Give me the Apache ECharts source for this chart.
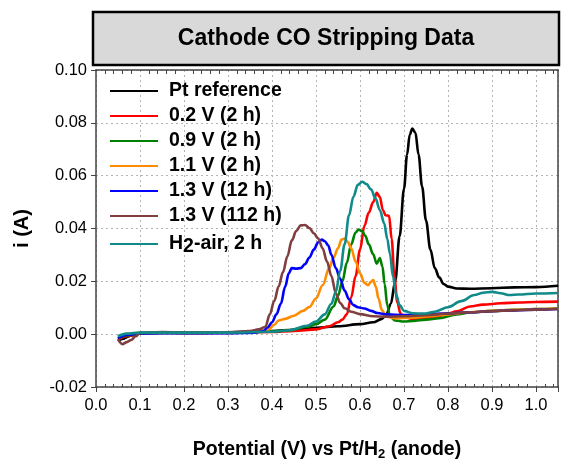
<!DOCTYPE html>
<html>
<head>
<meta charset="utf-8">
<script src="https://cdn.jsdelivr.net/npm/echarts@6/dist/echarts.min.js"></script>
<style>
  html, body { margin: 0; padding: 0; background: #fff; }
  #chart { width: 562px; height: 459px; }
</style>
</head>
<body>
<div id="chart"></div>
<script>
// CO stripping voltammograms: [potential (V), current (A)]
const seriesNames = ['Pt reference', '0.2 V (2 h)', '0.9 V (2 h)', '1.1 V (2 h)', '1.3 V (12 h)', '1.3 V (112 h)', 'H2-air, 2 h'];
const seriesColors = ['#000000', '#ff0000', '#008000', '#ff8c00', '#0000ff', '#7f3f3f', '#118a8a'];

const ptReference = [[0.05,-0.0025],[0.06,-0.0018],[0.08,-0.0005],[0.10,0.0003],[0.15,0.0006],[0.20,0.0005],[0.25,0.0005],[0.30,0.0006],[0.35,0.0008],[0.40,0.0012],[0.45,0.0017],[0.50,0.0024],[0.55,0.003],[0.60,0.0038],[0.63,0.0045],[0.65,0.0058],[0.66,0.0075],[0.67,0.0115],[0.68,0.02],[0.69,0.037],[0.70,0.055],[0.707,0.068],[0.713,0.0755],[0.719,0.0778],[0.726,0.0762],[0.733,0.068],[0.741,0.056],[0.75,0.043],[0.76,0.032],[0.77,0.025],[0.78,0.0215],[0.79,0.019],[0.80,0.018],[0.82,0.0173],[0.85,0.0172],[0.90,0.0174],[0.95,0.0177],[1.00,0.0178],[1.05,0.0183]];

const cathode02V = [[0.05,-0.002],[0.07,-0.0008],[0.10,0.0004],[0.15,0.0006],[0.20,0.0005],[0.30,0.0005],[0.40,0.0008],[0.45,0.0012],[0.50,0.0018],[0.53,0.003],[0.55,0.0045],[0.56,0.0055],[0.57,0.0075],[0.58,0.014],[0.59,0.022],[0.60,0.032],[0.61,0.041],[0.62,0.046],[0.63,0.050],[0.638,0.0535],[0.645,0.052],[0.652,0.047],[0.658,0.045],[0.666,0.0448],[0.672,0.036],[0.678,0.022],[0.685,0.012],[0.692,0.0078],[0.70,0.0065],[0.72,0.0058],[0.75,0.006],[0.78,0.0068],[0.80,0.0078],[0.82,0.0087],[0.85,0.0105],[0.88,0.0112],[0.92,0.0117],[0.96,0.012],[1.00,0.0122],[1.05,0.0123]];

const cathode09V = [[0.05,-0.0015],[0.07,-0.0005],[0.10,0.0004],[0.20,0.0005],[0.30,0.0006],[0.40,0.001],[0.44,0.0015],[0.48,0.0028],[0.50,0.0038],[0.52,0.0055],[0.54,0.0105],[0.55,0.0145],[0.56,0.020],[0.57,0.027],[0.58,0.034],[0.59,0.0385],[0.597,0.0396],[0.605,0.039],[0.612,0.0372],[0.62,0.034],[0.63,0.0302],[0.638,0.0267],[0.645,0.0288],[0.651,0.0256],[0.656,0.019],[0.662,0.011],[0.668,0.0068],[0.68,0.0052],[0.70,0.0048],[0.72,0.005],[0.75,0.0055],[0.78,0.006],[0.82,0.0075],[0.85,0.0082],[0.90,0.0088],[0.95,0.0092],[1.00,0.0095],[1.05,0.0097]];

const cathode11V = [[0.05,-0.001],[0.07,0],[0.10,0.0005],[0.20,0.0005],[0.30,0.0006],[0.36,0.0008],[0.39,0.0015],[0.405,0.0035],[0.415,0.0052],[0.43,0.0058],[0.45,0.007],[0.47,0.0088],[0.485,0.0103],[0.50,0.0135],[0.515,0.0185],[0.53,0.025],[0.54,0.029],[0.55,0.0325],[0.558,0.0358],[0.565,0.0362],[0.572,0.035],[0.58,0.0325],[0.59,0.0275],[0.60,0.023],[0.61,0.0195],[0.618,0.0185],[0.625,0.0198],[0.630,0.0205],[0.636,0.018],[0.642,0.0135],[0.65,0.009],[0.66,0.0066],[0.68,0.006],[0.72,0.0062],[0.76,0.0068],[0.80,0.0075],[0.85,0.0083],[0.90,0.0088],[0.95,0.0092],[1.00,0.0095],[1.05,0.0097]];

const cathode13V12h = [[0.05,-0.0015],[0.07,-0.0003],[0.10,0.0003],[0.20,0.0004],[0.30,0.0004],[0.36,0.0006],[0.38,0.0012],[0.39,0.0025],[0.40,0.0045],[0.41,0.0075],[0.42,0.0115],[0.43,0.018],[0.438,0.023],[0.445,0.025],[0.455,0.0248],[0.465,0.025],[0.475,0.0265],[0.485,0.029],[0.495,0.032],[0.505,0.0348],[0.513,0.0358],[0.52,0.0352],[0.528,0.0335],[0.535,0.030],[0.545,0.025],[0.555,0.021],[0.565,0.0165],[0.575,0.0132],[0.585,0.011],[0.595,0.0102],[0.61,0.0097],[0.625,0.0088],[0.64,0.008],[0.66,0.0075],[0.70,0.0072],[0.75,0.0075],[0.80,0.0079],[0.85,0.0083],[0.90,0.0087],[0.95,0.009],[1.00,0.0093],[1.05,0.0095]];

const cathode13V112h = [[0.05,-0.002],[0.06,-0.0038],[0.07,-0.003],[0.08,-0.0022],[0.09,-0.0008],[0.10,0.0005],[0.15,0.0008],[0.20,0.0007],[0.25,0.0006],[0.30,0.0007],[0.35,0.0012],[0.37,0.0018],[0.385,0.0028],[0.395,0.0075],[0.405,0.0125],[0.415,0.018],[0.425,0.0235],[0.435,0.0295],[0.445,0.0355],[0.455,0.039],[0.465,0.0412],[0.475,0.0413],[0.485,0.0402],[0.495,0.0382],[0.505,0.0362],[0.515,0.0325],[0.525,0.0275],[0.535,0.022],[0.545,0.0155],[0.555,0.0118],[0.565,0.0098],[0.58,0.0085],[0.60,0.0076],[0.63,0.0068],[0.66,0.0066],[0.70,0.0068],[0.75,0.0072],[0.80,0.0078],[0.85,0.0083],[0.90,0.0087],[0.95,0.009],[1.00,0.0093],[1.05,0.0095]];

const h2Air2h = [[0.05,-0.0008],[0.07,0.0002],[0.10,0.0006],[0.20,0.0006],[0.30,0.0006],[0.40,0.0009],[0.44,0.0015],[0.48,0.0032],[0.50,0.0048],[0.52,0.0075],[0.535,0.0115],[0.545,0.016],[0.555,0.024],[0.565,0.034],[0.575,0.045],[0.585,0.052],[0.595,0.0565],[0.605,0.0577],[0.615,0.0568],[0.625,0.0548],[0.635,0.0515],[0.645,0.047],[0.655,0.042],[0.662,0.036],[0.668,0.0305],[0.675,0.0218],[0.682,0.015],[0.69,0.011],[0.70,0.0088],[0.72,0.0079],[0.745,0.0078],[0.77,0.0085],[0.80,0.0102],[0.83,0.0125],[0.86,0.0148],[0.88,0.0157],[0.90,0.016],[0.92,0.0155],[0.94,0.0148],[0.96,0.015],[1.00,0.0154],[1.05,0.0156]];

const seriesData = [ptReference, cathode02V, cathode09V, cathode11V, cathode13V12h, cathode13V112h, h2Air2h];

const FONT = '"Liberation Sans", Arial, sans-serif';
const gridLine = { show: true, lineStyle: { color: '#b4b4b4', type: [2, 3], width: 1 } };
const axisLine = { show: true, onZero: false, lineStyle: { color: '#444', width: 1.5 } };

const chart = echarts.init(document.getElementById('chart'), null, { renderer: 'canvas' });

chart.setOption({
  animation: false,
  backgroundColor: '#fff',
  grid: { left: 96, right: 4, top: 70, bottom: 72, containLabel: false, outerBoundsMode: 'none' },
  graphic: [
    {
      type: 'rect',
      shape: { x: 93, y: 12, width: 466, height: 53 },
      style: { fill: '#d9d9d9', stroke: '#000', lineWidth: 2.5 },
      z: 1
    },
    {
      type: 'text',
      x: 326, y: 39,
      style: {
        text: 'Cathode CO Stripping Data',
        font: 'bold 23px ' + FONT,
        fill: '#000',
        align: 'center',
        verticalAlign: 'middle'
      },
      z: 2
    }
  ],
  legend: {
    orient: 'vertical',
    left: 105, top: 76,
    itemWidth: 48, itemHeight: 2,
    itemGap: 5,
    icon: 'rect',
    data: seriesNames,
    formatter: function (name) {
      if (name === 'H2-air, 2 h') return '{t|H}{s|2}{t|-air, 2 h}';
      return '{t|' + name + '}';
    },
    textStyle: {
      padding: [0, 0, 0, 6],
      rich: {
        t: { fontFamily: FONT, fontWeight: 'bold', fontSize: 19.5, color: '#000', lineHeight: 20 },
        s: { fontFamily: FONT, fontWeight: 'bold', fontSize: 19.5, color: '#000', lineHeight: 20, padding: [6, 0, 0, 0] }
      }
    }
  },
  xAxis: [
    {
      type: 'value',
      position: 'bottom',
      min: 0, max: 1.05, interval: 0.1,
      axisLine: axisLine,
      axisTick: { show: true, inside: false, length: 5, lineStyle: { color: '#444', width: 1 } },
      minorTick: { show: false },
      splitLine: gridLine,
      axisLabel: {
        color: '#000', fontFamily: FONT, fontSize: 16.5, margin: 10,
        formatter: function (v) { return v > 1.0001 ? '' : v.toFixed(1); }
      },
      name: '{t|Potential (V) vs Pt/H}{s|2}{t| (anode)}',
      nameLocation: 'middle',
      nameGap: 52,
      nameTextStyle: {
        rich: {
          t: { fontFamily: FONT, fontWeight: 'bold', fontSize: 19.5, color: '#000' },
          s: { fontFamily: FONT, fontWeight: 'bold', fontSize: 13, color: '#000', padding: [9, 0, 0, 0] }
        }
      }
    },
    {
      // inward minor ticks along the bottom edge
      type: 'value',
      position: 'bottom',
      min: 0, max: 1.05, interval: 0.1,
      axisLine: { show: false, onZero: false },
      axisTick: { show: false, inside: true },
      minorTick: { show: true, splitNumber: 5, length: 3, lineStyle: { color: '#444', width: 1 } },
      splitLine: { show: false },
      axisLabel: { show: false }
    },
    {
      // top frame with inward minor ticks
      type: 'value',
      position: 'top',
      min: 0, max: 1.05, interval: 0.1,
      axisLine: axisLine,
      axisTick: { show: false, inside: true },
      minorTick: { show: true, splitNumber: 5, length: 4, lineStyle: { color: '#444', width: 1 } },
      splitLine: { show: false },
      axisLabel: { show: false }
    }
  ],
  yAxis: [
    {
      type: 'value',
      position: 'left',
      min: -0.02, max: 0.10, interval: 0.02,
      axisLine: axisLine,
      axisTick: { show: true, inside: false, length: 5, lineStyle: { color: '#444', width: 1 } },
      splitLine: gridLine,
      axisLabel: {
        color: '#000', fontFamily: FONT, fontSize: 16.5, margin: 9,
        formatter: function (v) { return v.toFixed(2); }
      },
      name: 'i (A)',
      nameLocation: 'middle',
      nameGap: 64,
      nameTextStyle: { fontFamily: FONT, fontWeight: 'bold', fontSize: 20, color: '#000' }
    },
    {
      type: 'value',
      position: 'right',
      min: -0.02, max: 0.10, interval: 0.02,
      axisLine: axisLine,
      axisTick: { show: false },
      splitLine: { show: false },
      axisLabel: { show: false }
    }
  ],
  series: seriesData.map(function (d, i) {
    return {
      name: seriesNames[i],
      type: 'line',
      xAxisIndex: 0,
      yAxisIndex: 0,
      data: d,
      smooth: 0.35,
      smoothMonotone: 'x',
      showSymbol: false,
      symbol: 'none',
      color: seriesColors[i],
      lineStyle: { color: seriesColors[i], width: 2.6 },
      z: 3 + i
    };
  })
});
</script>
</body>
</html>
